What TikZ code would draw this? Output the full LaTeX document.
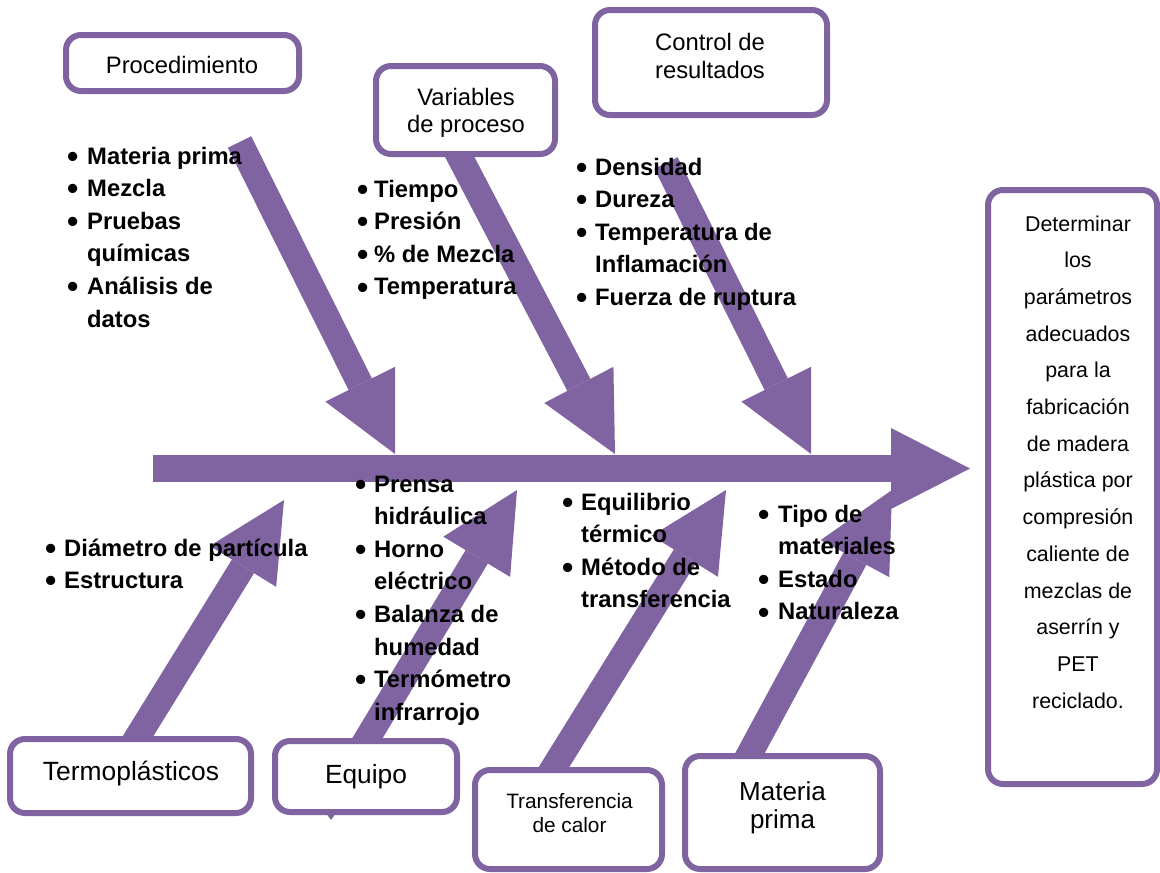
\documentclass[tikz,border=0pt]{standalone}
\usepackage{fontspec}
\setmainfont{Liberation Sans}
\usetikzlibrary{arrows.meta}
\definecolor{purp}{HTML}{8064A2}
\tikzset{
  box/.style={draw=purp, line width=6pt, rounded corners=15pt, fill=white, inner sep=0pt},
  bigarrow/.style={draw=purp, line width=26pt, -{Triangle[width=78pt,length=78pt,line width=0pt]}},
  spinearrow/.style={draw=purp, line width=27pt, -{Triangle[width=81pt,length=79pt,line width=0pt]}},
  item/.style={font=\bfseries\fontsize{23.8}{28}\selectfont, anchor=base west, inner sep=0pt},
  lbl/.style={font=\fontsize{23.8}{28}\selectfont, anchor=base, inner sep=0pt},
}
\newcommand\bulletmark{\raisebox{-3.2pt}{\scalebox{1.35}{•}}}
\newcommand\blist[5]{%
  \foreach \b/\t [count=\i from 0] in {#5} {
    \node[item] (#1-\i) at (#3, #4+\i*32.6) {\t};
    \ifnum\b=1 \node[item] (#1-b\i) at (#2-1, #4+\i*32.6) {\bulletmark};\fi
  }}
\begin{document}
\begin{tikzpicture}[x=1pt,y=-1pt]
\useasboundingbox (0,0) rectangle (1160,873);
% connector end points
\coordinate (spS) at (153,468.5);
\coordinate (spE) at (970,468.5);
\coordinate (a1s) at (239.5,142);   \coordinate (a1e) at (395,454);
\coordinate (a2s) at (454,146);     \coordinate (a2e) at (615,454);
\coordinate (a3s) at (666,163);     \coordinate (a3e) at (811,454);
\coordinate (b1s) at (131.2,747.2); \coordinate (b1e) at (284,500);
\coordinate (b2s) at (361.3,748.3); \coordinate (b2e) at (517,490);
\coordinate (b3s) at (547.7,777.2); \coordinate (b3e) at (726,490);
\coordinate (b4s) at (744.3,763.6); \coordinate (b4e) at (892,490);
% arrows
\draw[spinearrow] (spS) -- (spE);
\foreach \a in {a1,a2,a3,b1,b2,b3,b4} \draw[bigarrow] (\a s) -- (\a e);
% boxes
\node[box, minimum width=233pt, minimum height=56pt] (proc) at (182.5,63) {};
\node[box, minimum width=179pt, minimum height=88pt] (var) at (465.5,110) {};
\node[box, minimum width=232pt, minimum height=105pt] (ctrl) at (711,62.5) {};
\node[box, minimum width=169pt, minimum height=594pt] (goal) at (1072.5,487) {};
\node[box, minimum width=241pt, minimum height=74pt] (termo) at (130.5,776) {};
\node[box, minimum width=182pt, minimum height=71pt] (equipo) at (366,776.5) {};
\node[box, minimum width=187pt, minimum height=99pt] (transf) at (568.5,819.5) {};
\node[box, minimum width=195pt, minimum height=113pt] (mp) at (782.5,812.5) {};
\fill[purp] (326,813) -- (336,813) -- (331,820) -- cycle;
% box labels
\node[lbl] (proc-t) at (182,73) {Procedimiento};
\node[lbl] (var-t1) at (466,105) {Variables};
\node[lbl] (var-t2) at (466,132) {de proceso};
\node[lbl] (ctrl-t1) at (710,50) {Control de};
\node[lbl] (ctrl-t2) at (710,78) {resultados};
\node[lbl, font=\fontsize{26.4}{30}\selectfont] (termo-t) at (131,780) {Termoplásticos};
\node[lbl, font=\fontsize{26.3}{30}\selectfont] (equipo-t) at (366,783) {Equipo};
\node[lbl, font=\fontsize{20.8}{24}\selectfont] (transf-t1) at (569.5,808) {Transferencia};
\node[lbl, font=\fontsize{20.8}{24}\selectfont] (transf-t2) at (569.5,832) {de calor};
\node[lbl, font=\fontsize{26}{30}\selectfont] (mp-t1) at (782.5,800) {Materia};
\node[lbl, font=\fontsize{26}{30}\selectfont] (mp-t2) at (782.5,828) {prima};
\foreach \t [count=\i from 0] in {Determinar, los, parámetros, adecuados, para la, fabricación, de madera, plástica por, compresión, caliente de, mezclas de, aserrín y, PET, reciclado.}
  \node[lbl, font=\fontsize{21.4}{25}\selectfont] (goal-\i) at (1078, 231+\i*36.7) {\t};
% bullet lists
\blist{L1}{68}{87}{164}{1/Materia prima, 1/Mezcla, 1/Pruebas, 0/químicas, 1/Análisis de, 0/datos}
\blist{L2}{358}{374}{197}{1/Tiempo, 1/Presión, 1/\% de Mezcla, 1/Temperatura}
\blist{L3}{577}{595}{175}{1/Densidad, 1/Dureza, 1/Temperatura de, 0/Inflamación, 1/Fuerza de ruptura}
\blist{L4}{46}{64}{556}{1/Diámetro de partícula, 1/Estructura}
\blist{L5}{356}{374}{492}{1/Prensa, 0/hidráulica, 1/Horno, 0/eléctrico, 1/Balanza de, 0/humedad, 1/Termómetro, 0/infrarrojo}
\blist{L6}{563}{581}{510}{1/Equilibrio, 0/térmico, 1/Método de, 0/transferencia}
\blist{L7}{759}{778}{522}{1/Tipo de, 0/materiales, 1/Estado, 1/Naturaleza}
\end{tikzpicture}
\end{document}
